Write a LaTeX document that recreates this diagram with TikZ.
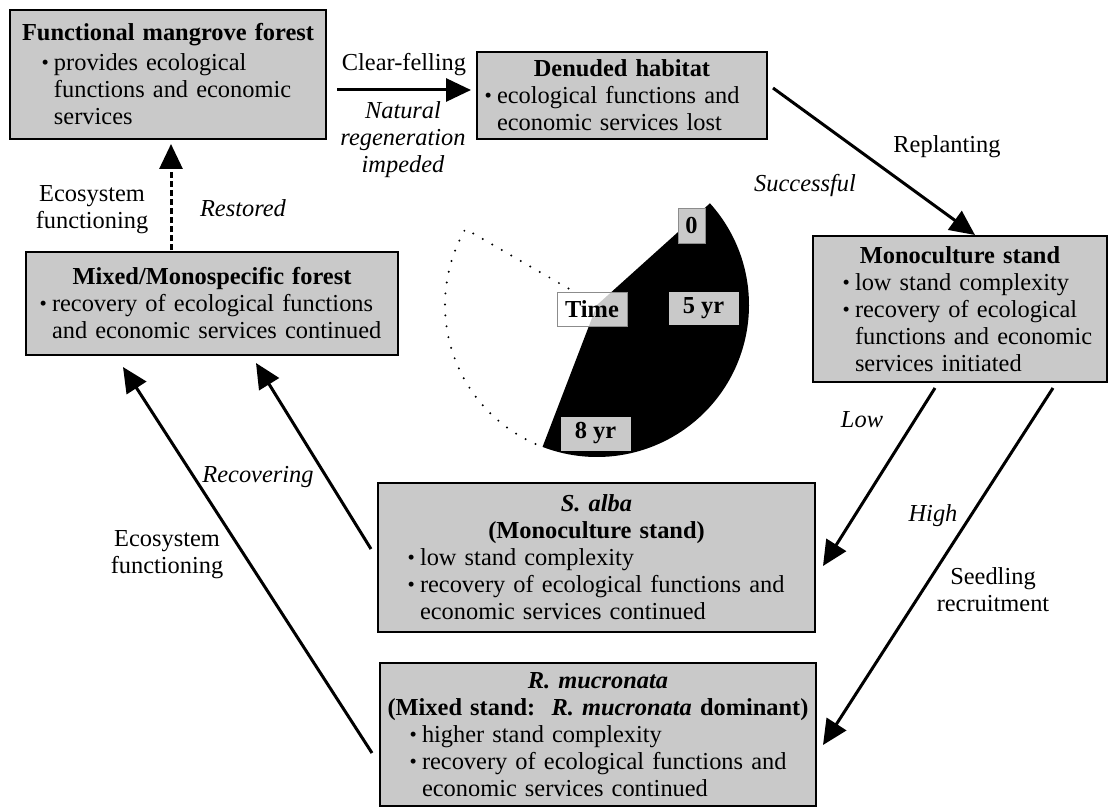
\documentclass[tikz,border=0pt]{standalone}
\usepackage{fontspec}
\setmainfont{Liberation Serif}
\usepackage{graphicx}
\usetikzlibrary{arrows.meta}
\definecolor{boxgray}{gray}{0.79}
\newcommand{\hd}[1]{{\centering #1\par}}% centred heading line in a box
\newcommand{\ind}[1]{\leftskip=#1\relax}% left indent of the bullet lines
\newcommand{\bul}{\par\noindent\llap{\raisebox{0.05em}{\scalebox{0.85}{\textbullet}}\hspace{2.5pt}}}
\newcommand{\nl}{\newline}

\tikzset{
  txt/.style={font=\fontsize{12.2}{13.5}\selectfont},
  box/.style={txt, draw, line width=1pt, fill=boxgray, inner xsep=2pt, inner ysep=0pt},
  lab/.style={txt, align=center, inner sep=0pt},
  itlab/.style={lab, font=\fontsize{12.2}{13.5}\selectfont\itshape},
  flow/.style={line width=1.5pt, -{Triangle[length=12.5pt,width=11.5pt]}},
  tag/.style={txt, font=\fontsize{12.2}{13.5}\selectfont\bfseries, fill=boxgray, draw=black!45, line width=0.4pt, inner sep=0pt},
  dotline/.style={line width=1.1pt, line cap=round, dash pattern=on 0pt off 5.5pt}
}

\begin{document}
\begin{tikzpicture}[x=0.5pt, y=-0.5pt]
  \useasboundingbox (0,0) rectangle (1109,808);

  %BOXES
  \node[box, minimum width=158pt, minimum height=64.5pt, text width=154pt] (fmf) at (168,74.5)
    {\hd{\textbf{Functional mangrove forest}}\vspace{1.5pt}\ind{20pt}\bul provides ecological\nl functions and economic\nl services\par};
  \node[box, minimum width=145pt, minimum height=43.5pt, text width=141pt] (den) at (622,95.5)
    {\hd{\textbf{Denuded habitat}}\ind{8pt}\bul ecological functions and\nl economic services lost\par};
  \node[box, minimum width=147pt, minimum height=73pt, text width=143pt] (mono) at (960,309)
    {\hd{\textbf{Monoculture stand}}\ind{19pt}\bul low stand complexity\bul recovery of ecological\nl functions and economic\nl services initiated\par};
  \node[box, minimum width=186pt, minimum height=51.5pt, text width=182pt] (mix) at (212,303.5)
    {\hd{\textbf{Mixed/Monospecific forest}}\ind{11pt}\bul recovery of ecological functions\nl and economic services continued\par};
  \node[box, minimum width=218.5pt, minimum height=74.5pt, text width=214.5pt] (salba) at (596.5,557.5)
    {\hd{\textbf{\textit{S. alba}}}\hd{\textbf{(Monoculture stand)}}\ind{19pt}\bul low stand complexity\bul recovery of ecological functions and\nl economic services continued\par};
  \node[box, minimum width=218pt, minimum height=71.5pt, text width=214pt] (rmuc) at (598,734.5)
    {\hd{\textbf{\textit{R. mucronata}}}\hd{\textbf{(Mixed stand:\ \ \textit{R. mucronata} dominant)}}\ind{19pt}\bul higher stand complexity\bul recovery of ecological functions and\nl economic services continued\par};

  %ARROWS
  \draw[flow] ([shift={(10,15.5)}]fmf.east) -- ([shift={(-5,-5.5)}]den.west); %clear-felling
  \draw[flow] ([shift={(5,-7.5)}]den.east) -- ([shift={(15,0)}]mono.north); %replanting
  \draw[flow] ([shift={(-25,5)}]mono.south) -- ([shift={(7,8.5)}]salba.east); %low
  \draw[flow] ([shift={(93,5)}]mono.south) -- ([shift={(6,10.5)}]rmuc.east); %high
  \draw[flow] ([shift={(-6,-8.5)}]salba.west) -- ([shift={(44,7)}]mix.south); %recovering
  \draw[flow] ([shift={(-7,18.5)}]rmuc.west) -- ([shift={(-89,11)}]mix.south); %ecosystem functioning
  \draw[flow, dash pattern=on 3pt off 1.5pt] ([shift={(-41,-1)}]mix.north) -- ([shift={(3,4)}]fmf.south); %restored

  %LABELS
  \node[lab] (clf) at (404,65) {Clear-felling};
  \node[itlab] (nri) at (403,140) {Natural\\regeneration\\impeded};
  \node[lab] (rep) at (947,147) {Replanting};
  \node[itlab] (suc) at (805,186) {Successful};
  \node[lab] (eco1) at (92,210) {Ecosystem\\functioning};
  \node[itlab] (res) at (243,208) {Restored};
  \node[itlab] (rec) at (258,477) {Recovering};
  \node[lab] (eco2) at (167,555) {Ecosystem\\functioning};
  \node[itlab] (low) at (862,420) {Low};
  \node[itlab] (high) at (933,516) {High};
  \node[lab] (seed) at (993,590) {Seedling\\recruitment};

  %TIME PIE
  \fill (597,305) -- +(-42:152) arc[start angle=-42, end angle=111, radius=152] -- cycle; %elapsed part
  \draw[dotline] (597,305) -- +(210:152) arc[start angle=210, end angle=111, radius=152]; %rest
  \fill[white] (557,292) rectangle (627,326); %time box back
  \begin{scope}
    \clip (557,292) rectangle (627,326);
    \fill[boxgray] (597,305) -- +(-42:152) arc[start angle=-42, end angle=111, radius=152] -- cycle;
  \end{scope}
  \node[tag, fill=none, minimum width=35pt, minimum height=17pt] (time) at (592,309) {Time};
  \node[tag, minimum width=13.5pt, minimum height=17.5pt] (zero) at (691.5,225.5) {0};
  \node[tag, draw=boxgray, minimum width=34.5pt, minimum height=16pt] (five) at (703.5,308) {5 yr};
  \node[tag, draw=boxgray, minimum width=34.5pt, minimum height=16.5pt] (eight) at (595.5,433.5) {8 yr};
\end{tikzpicture}
\end{document}
